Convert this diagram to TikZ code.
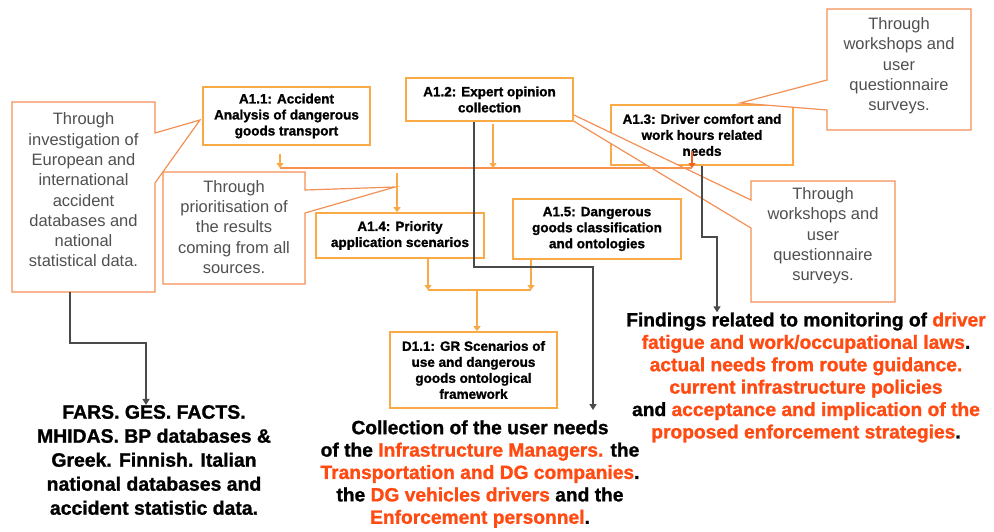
\documentclass[tikz,border=0pt]{standalone}
\usepackage{fontspec}
\setmainfont{Liberation Sans}
\newfontfamily\heavyfont[FakeBold=1.2]{Liberation Sans Bold}
\usetikzlibrary{arrows.meta}
\definecolor{boxor}{HTML}{F9A945}
\definecolor{callor}{HTML}{F39055}
\definecolor{busor}{HTML}{F7934C}
\definecolor{redor}{HTML}{F2641E}
\definecolor{red1}{HTML}{FF4A12}
\definecolor{dk}{HTML}{4A4A4A}
\definecolor{gtxt}{HTML}{505050}
\begin{document}
\begin{tikzpicture}[x=1pt,y=-1pt,
 task/.style={draw=boxor, line width=1.6pt, fill=white, align=center, font=\heavyfont\fontsize{13.5}{16}\selectfont, inner sep=0pt},
 call/.style={draw=callor, line width=1.2pt, fill=white, line join=miter},
 ctext/.style={align=center, text=gtxt, font=\fontsize{16.5}{20.3}\selectfont, inner sep=0pt},
 oarrow/.style={draw=boxor, line width=1.6pt, -{Triangle[width=7pt,length=5pt]}},
 oline/.style={draw=boxor, line width=1.6pt},
 busline/.style={draw=busor, line width=1.4pt},
 dline/.style={draw=dk, line width=1.6pt},
 darrow/.style={dline, -{Triangle[width=7pt,length=6pt]}},
 big/.style={align=center, font=\heavyfont\fontsize{19.2}{22.4}\selectfont, inner sep=0pt}]

\useasboundingbox (0,0) rectangle (994,531);

% A1.3 first (callout pointer lines pass over it)
\node[task, minimum width=182pt, minimum height=60pt] (A13) at (702,135) {A1.3: Driver comfort and\\work hours related\\needs};

% callouts
\draw[call] (12,102) -- (155,102) -- (155,133) -- (200,120) -- (155,183) -- (155,292) -- (12,292) -- cycle;
\node[ctext] (c1) at (83.5,190) {Through\\investigation of\\European and\\international\\accident\\databases and\\national\\statistical data.};
\coordinate (c1b) at (70,292);

\draw[call] (163,172) -- (305,172) -- (305,190) -- (395,187) -- (305,213) -- (305,284) -- (163,284) -- cycle;
\node[ctext] (c2) at (234,227) {Through\\prioritisation of\\the results\\coming from all\\sources.};

\draw[call] (827,9) -- (971,9) -- (971,130) -- (827,130) -- (827,110) -- (740,103) -- (827,80) -- cycle;
\node[ctext] (c3) at (899,66) {Through\\workshops and\\user\\questionnaire\\surveys.};

\draw[call] (751,181) -- (895,181) -- (895,302) -- (751,302) -- (751,228) -- (522,90) -- (751,200) -- cycle;
\node[ctext] (c4) at (823,236) {Through\\workshops and\\user\\questionnaire\\surveys.};

% task boxes
\node[task, minimum width=167pt, minimum height=58pt] (A11) at (286.5,116) {A1.1: Accident\\Analysis of dangerous\\goods transport};
\node[task, minimum width=167pt, minimum height=43pt] (A12) at (489.5,99.5) {A1.2: Expert opinion\\collection};
\node[task, minimum width=168pt, minimum height=45pt] (A14) at (400,235.5) {A1.4: Priority\\application scenarios};
\node[task, minimum width=168pt, minimum height=60pt] (A15) at (597,229) {A1.5: Dangerous\\goods classification\\and ontologies};
\node[task, minimum width=167pt, minimum height=76pt] (D11) at (473.5,370) {D1.1: GR Scenarios of\\use and dangerous\\goods ontological\\framework};

% orange bus
\coordinate (b1) at (280,168);
\coordinate (b2) at (493,168);
\coordinate (b3) at (692,168);
\coordinate (b4) at (397,173);
\draw[busline] (b1) -- (b3);
\draw[oarrow] (A11.south -| b1) ++(0,8) -- (b1);
\draw[oarrow] (A12.south -| b2) ++(0,2) -- (b2);
\draw[draw=redor, line width=1.6pt, -{Triangle[width=7pt,length=5pt]}] (A13.south -| b3) ++(0,-15) -- (b3);
\draw[oarrow] (b4) -- (A14.north -| b4);

% lower junction
\coordinate (j1) at (428,290);
\coordinate (j2) at (531,290);
\coordinate (j3) at (477,290);
\draw[oarrow] (A14.south -| j1) -- (j1);
\draw[oarrow] (A15.south -| j2) -- (j2);
\draw[oline] (j1) -- (j2);
\draw[oarrow] (j3) -- (D11.north -| j3);

% bottom texts
\node[big, font=\heavyfont\fontsize{19.4}{24}\selectfont] (T1) at (154,460) {FARS. GES. FACTS.\\MHIDAS. BP databases \&\\Greek. Finnish. Italian\\national databases and\\accident statistic data.};
\node[big] (T2) at (480,474) {Collection of the user needs\\of the \textcolor{red1}{Infrastructure Managers.} the\\\textcolor{red1}{Transportation and DG companies}.\\the \textcolor{red1}{DG vehicles drivers} and the\\\textcolor{red1}{Enforcement personnel}.};
\node[big] (T3) at (806,377.5) {Findings related to monitoring of \textcolor{red1}{driver}\\\textcolor{red1}{fatigue and work/occupational laws}.\\\textcolor{red1}{actual needs from route guidance.}\\\textcolor{red1}{current infrastructure policies}\\and \textcolor{red1}{acceptance and implication of the}\\\textcolor{red1}{proposed enforcement strategies}.};

% dark connectors
\coordinate (d1) at (70,343);
\coordinate (d2) at (146,343);
\draw[darrow] (c1b) -- (d1) -- (d2) -- (T1.north -| d2);
\coordinate (k0) at (474,267);
\coordinate (k1) at (593,267);
\coordinate (k2) at (593,410);
\draw[darrow] (A12.south -| k0) -- (k0) -- (k1) -- (k2);
\coordinate (m0) at (702,237);
\coordinate (m1) at (717,237);
\draw[darrow] (A13.south -| m0) -- (m0) -- (m1) -- (T3.north -| m1);
\end{tikzpicture}
\end{document}
